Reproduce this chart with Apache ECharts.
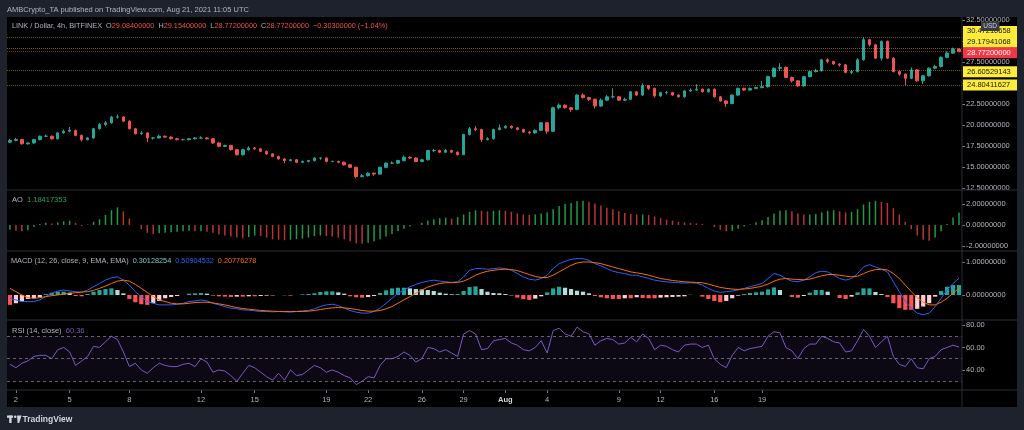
<!DOCTYPE html>
<html><head><meta charset="utf-8">
<script src="https://cdn.jsdelivr.net/npm/echarts@6/dist/echarts.min.js"></script>
<style>html,body{margin:0;padding:0;background:#1e222d;}#c{width:1024px;height:430px;}</style>
</head><body><div id="c"></div>
<script>
// ---- data ----
// candles: [open, close, low, high], 160 bars
const candles = [
[18.0,18.2,17.9,18.4],[18.2,18.3,18.1,18.5],[18.3,17.8,17.7,18.4],[17.8,17.9,17.7,18.0],[17.9,18.3,17.8,18.4],[18.3,18.7,18.2,18.8],[18.7,18.7,18.6,18.9],[18.7,18.4,18.3,18.8],[18.4,19.1,18.3,19.2],[19.1,19.3,19.0,19.5],
[19.3,19.4,19.2,19.8],[19.4,18.8,18.7,19.5],[18.8,18.3,18.1,18.9],[18.3,18.5,18.2,18.6],[18.5,19.6,18.4,19.7],[19.6,20.1,19.5,20.3],[20.1,20.3,19.9,20.5],[20.3,21.0,20.2,21.1],[21.0,21.0,20.8,21.3],[21.0,20.5,20.4,21.1],
[20.5,19.6,19.5,20.6],[19.6,19.0,18.9,19.7],[19.0,19.1,18.9,19.3],[19.1,18.5,18.0,19.2],[18.5,18.5,18.3,18.6],[18.5,18.7,18.4,18.9],[18.7,18.6,18.5,18.8],[18.6,18.4,18.3,18.7],[18.4,18.3,18.2,18.5],[18.3,18.3,18.2,18.4],
[18.3,18.4,18.2,18.5],[18.4,18.5,18.3,18.6],[18.5,18.5,18.4,18.7],[18.5,18.4,18.3,18.6],[18.4,17.9,17.8,18.5],[17.9,17.5,17.4,18.0],[17.5,17.6,17.4,17.7],[17.6,17.1,17.0,17.7],[17.1,16.5,16.4,17.2],[16.5,17.1,16.4,17.2],
[17.1,17.3,17.0,17.5],[17.3,17.2,17.1,17.4],[17.2,16.9,16.8,17.3],[16.9,16.6,16.5,17.0],[16.6,16.3,16.2,16.7],[16.3,16.0,15.9,16.4],[16.0,15.8,15.5,16.1],[15.8,15.9,15.7,16.0],[15.9,15.6,15.5,16.0],[15.6,15.7,15.5,15.8],
[15.7,15.8,15.6,15.9],[15.8,16.1,15.7,16.2],[16.1,16.1,15.9,16.2],[16.1,15.7,15.6,16.2],[15.7,15.7,15.6,15.8],[15.7,15.6,15.5,15.8],[15.6,15.3,15.2,15.7],[15.3,15.0,14.9,15.4],[15.0,13.9,13.7,15.1],[13.9,14.0,13.8,14.2],
[14.0,14.3,13.9,14.4],[14.3,14.2,14.0,14.4],[14.2,15.0,14.1,15.1],[15.0,15.5,14.9,15.6],[15.5,15.5,15.4,15.7],[15.5,15.8,15.4,15.9],[15.8,16.2,15.7,16.4],[16.2,16.1,16.0,16.3],[16.1,15.7,15.6,16.2],[15.7,15.9,15.6,16.0],
[15.9,17.0,15.8,17.1],[17.0,17.0,16.8,17.2],[17.0,16.8,16.7,17.1],[16.8,17.0,16.7,17.2],[17.0,16.8,16.7,17.1],[16.8,16.5,16.4,16.9],[16.5,18.9,16.5,19.0],[18.9,19.6,18.8,19.8],[19.6,19.5,19.3,19.9],[19.5,18.3,18.0,19.6],
[18.3,18.4,18.2,18.6],[18.4,19.5,18.3,19.6],[19.5,19.7,19.4,20.1],[19.7,19.9,19.6,20.0],[19.9,19.7,19.6,20.0],[19.7,19.5,19.4,19.8],[19.5,19.2,19.1,19.6],[19.2,19.1,19.0,19.3],[19.1,19.4,19.0,19.5],[19.4,20.3,19.3,20.4],
[20.3,19.3,19.0,20.4],[19.3,22.1,19.2,22.2],[22.1,22.4,21.9,22.6],[22.4,22.1,22.0,22.5],[22.1,21.9,21.6,22.2],[21.9,23.6,21.8,23.7],[23.6,23.3,23.2,23.8],[23.3,23.1,22.9,23.4],[23.1,22.3,22.0,23.2],[22.3,23.0,22.2,23.2],
[23.0,23.4,22.9,23.6],[23.4,23.4,23.2,24.4],[23.4,23.0,22.9,23.5],[23.0,23.1,22.9,23.3],[23.1,24.0,23.0,24.1],[24.0,23.6,23.5,24.1],[23.6,24.7,23.5,25.0],[24.7,24.4,24.2,24.8],[24.4,23.5,23.3,24.5],[23.5,23.9,23.4,24.0],
[23.9,23.9,23.7,24.1],[23.9,23.6,23.5,24.0],[23.6,23.4,23.3,23.7],[23.4,24.1,23.3,24.2],[24.1,24.2,24.0,24.4],[24.2,24.3,24.1,24.9],[24.3,24.0,23.9,24.4],[24.0,24.3,23.9,24.4],[24.3,23.4,23.3,24.4],[23.4,22.9,22.8,23.5],
[22.9,22.6,22.2,23.0],[22.6,23.6,22.5,23.7],[23.6,24.4,23.5,24.5],[24.4,24.2,24.1,24.5],[24.2,24.4,24.1,24.5],[24.4,24.5,24.3,24.6],[24.5,24.6,24.4,25.3],[24.6,25.8,24.5,25.9],[25.8,26.8,25.7,26.9],[26.8,26.9,26.5,27.4],
[26.9,25.7,25.6,27.0],[25.7,25.3,25.1,25.8],[25.3,24.7,24.6,25.4],[24.7,25.8,24.6,25.9],[25.8,26.4,25.7,26.5],[26.4,26.5,26.3,26.7],[26.5,27.8,26.4,27.9],[27.8,27.6,27.4,28.0],[27.6,27.3,27.2,27.7],[27.3,27.2,27.0,27.4],
[27.2,26.3,26.2,27.3],[26.3,26.4,26.1,26.6],[26.4,27.8,26.3,28.0],[27.8,30.2,27.7,30.47],[30.2,29.6,29.4,30.3],[29.6,28.0,27.9,29.7],[28.0,30.0,27.7,30.1],[30.0,28.0,27.9,30.1],[28.0,26.4,26.3,28.1],[26.4,26.1,25.9,26.5],
[26.1,25.6,24.8,26.2],[25.6,26.6,25.5,26.9],[26.6,25.3,25.2,26.7],[25.3,25.9,24.9,26.0],[25.9,26.8,25.8,26.9],[26.8,27.0,26.7,27.2],[27.0,28.1,26.9,28.2],[28.1,28.6,28.0,28.8],[28.6,29.084,28.5,29.25],[29.084,28.772,28.772,29.154]
];
const aoValues = [
-0.45,-0.55,-0.6,-0.5,-0.2,0.1,0.2,0.15,0.25,0.35,
0.4,0.2,-0.1,0.05,0.3,0.55,0.95,1.4,1.68,1.3,
0.6,0.0,-0.4,-0.75,-0.85,-0.8,-0.75,-0.7,-0.65,-0.6,
-0.55,-0.6,-0.6,-0.65,-0.75,-0.9,-1.0,-1.1,-1.2,-1.27,
-1.15,-1.0,-1.05,-1.2,-1.35,-1.4,-1.45,-1.4,-1.35,-1.3,
-1.2,-1.05,-1.0,-1.05,-1.1,-1.2,-1.35,-1.55,-1.75,-1.8,
-1.7,-1.55,-1.35,-1.1,-0.85,-0.6,-0.35,-0.15,0.0,0.2,
0.4,0.55,0.65,0.7,0.6,0.75,1.0,1.25,1.4,1.35,
1.3,1.35,1.4,1.35,1.25,1.1,1.0,0.95,1.0,1.1,
1.2,1.5,1.8,2.0,2.1,2.25,2.3,2.2,2.05,1.85,
1.65,1.5,1.3,1.15,1.05,1.0,1.0,0.95,0.8,0.65,
0.5,0.4,0.3,0.25,0.2,0.15,0.1,0.0,-0.2,-0.45,
-0.6,-0.55,-0.35,-0.15,0.05,0.25,0.45,0.75,1.1,1.35,
1.4,1.3,1.1,1.0,1.0,1.05,1.2,1.35,1.4,1.3,
1.2,1.25,1.5,1.95,2.2,2.3,2.2,2.1,1.6,1.0,
0.3,-0.4,-1.0,-1.4,-1.5,-1.2,-0.6,0.1,0.7,1.18417
];
const macdLine = [
-0.1,-0.15,-0.2,-0.2,-0.2,-0.15,-0.05,0.05,0.12,0.15,
0.12,0.1,0.08,0.15,0.25,0.35,0.45,0.52,0.55,0.45,
0.3,0.1,-0.05,-0.2,-0.25,-0.3,-0.3,-0.3,-0.28,-0.25,
-0.2,-0.18,-0.15,-0.18,-0.25,-0.3,-0.35,-0.4,-0.42,-0.45,
-0.46,-0.48,-0.5,-0.5,-0.51,-0.5,-0.51,-0.52,-0.5,-0.48,
-0.47,-0.42,-0.35,-0.3,-0.28,-0.32,-0.4,-0.47,-0.52,-0.55,
-0.55,-0.5,-0.4,-0.25,-0.1,0.05,0.15,0.25,0.32,0.38,
0.42,0.45,0.42,0.4,0.38,0.4,0.55,0.75,0.8,0.8,
0.78,0.8,0.82,0.8,0.75,0.65,0.55,0.48,0.45,0.5,
0.6,0.8,0.95,1.02,1.08,1.1,1.1,1.05,0.95,0.88,
0.8,0.72,0.68,0.65,0.6,0.6,0.55,0.5,0.45,0.42,
0.4,0.38,0.37,0.36,0.37,0.36,0.3,0.2,0.12,0.08,
0.1,0.12,0.15,0.2,0.25,0.3,0.35,0.5,0.65,0.6,
0.5,0.42,0.4,0.45,0.55,0.68,0.72,0.7,0.6,0.5,
0.45,0.5,0.65,0.85,0.92,0.85,0.78,0.7,0.4,0.1,
-0.2,-0.4,-0.55,-0.6,-0.55,-0.35,-0.1,0.15,0.35,0.50905
];
const signalLine = [
0.2,0.1,0.0,-0.08,-0.1,-0.08,-0.05,-0.02,0.0,0.03,
0.05,0.07,0.09,0.1,0.14,0.2,0.27,0.35,0.42,0.45,
0.42,0.32,0.2,0.08,-0.05,-0.15,-0.2,-0.25,-0.27,-0.27,
-0.25,-0.23,-0.22,-0.22,-0.24,-0.27,-0.3,-0.34,-0.38,-0.41,
-0.43,-0.45,-0.47,-0.48,-0.49,-0.5,-0.5,-0.5,-0.5,-0.5,
-0.49,-0.47,-0.44,-0.41,-0.39,-0.38,-0.39,-0.41,-0.44,-0.47,
-0.49,-0.49,-0.47,-0.42,-0.35,-0.25,-0.15,-0.05,0.05,0.15,
0.24,0.3,0.35,0.37,0.38,0.38,0.42,0.5,0.6,0.67,
0.72,0.75,0.77,0.78,0.77,0.74,0.68,0.62,0.56,0.53,
0.53,0.6,0.7,0.8,0.9,0.97,1.0,1.0,0.98,0.95,
0.9,0.85,0.8,0.75,0.7,0.67,0.64,0.6,0.55,0.5,
0.47,0.44,0.42,0.4,0.39,0.38,0.37,0.33,0.28,0.23,
0.2,0.18,0.17,0.18,0.2,0.23,0.27,0.33,0.42,0.48,
0.5,0.48,0.47,0.46,0.48,0.53,0.58,0.62,0.62,0.6,
0.57,0.55,0.57,0.65,0.72,0.77,0.78,0.76,0.65,0.5,
0.3,0.1,-0.08,-0.22,-0.3,-0.3,-0.22,-0.1,0.05,0.20776
];
const macdHist = [
-0.3,-0.25,-0.2,-0.12,-0.1,-0.07,0.03,0.07,0.1,0.1,
0.07,-0.03,-0.04,0.03,0.1,0.15,0.18,0.2,0.15,0.05,
-0.12,-0.22,-0.28,-0.3,-0.25,-0.18,-0.1,-0.06,-0.03,0.0,
0.04,0.05,0.06,0.04,-0.02,-0.04,-0.05,-0.06,-0.05,-0.05,
-0.04,-0.04,-0.03,-0.02,-0.02,0.0,-0.01,-0.02,0.0,0.02,
0.03,0.05,0.09,0.11,0.11,0.08,0.04,-0.04,-0.07,-0.08,
-0.06,-0.03,0.06,0.14,0.2,0.22,0.22,0.2,0.18,0.17,
0.15,0.12,0.07,0.04,0.02,0.03,0.12,0.24,0.26,0.18,
0.1,0.06,0.05,0.03,-0.02,-0.08,-0.13,-0.15,-0.11,-0.04,
0.08,0.2,0.25,0.22,0.18,0.13,0.1,0.05,-0.03,-0.07,
-0.1,-0.12,-0.12,-0.1,-0.1,-0.07,-0.09,-0.1,-0.1,-0.08,
-0.07,-0.06,-0.05,-0.04,0.01,0.0,-0.05,-0.12,-0.18,-0.22,
-0.18,-0.1,-0.02,0.03,0.06,0.08,0.1,0.17,0.23,0.15,
0.0,-0.06,-0.08,-0.03,0.07,0.15,0.15,0.1,0.0,-0.09,
-0.12,-0.05,0.08,0.2,0.2,0.09,0.03,-0.06,-0.25,-0.4,
-0.45,-0.45,-0.42,-0.35,-0.25,-0.05,0.12,0.25,0.3,0.30128
];
const rsiValues = [
45,42,46,48,52,53,53,50,58,60,
56,44,48,52,61,60,65,70,67,56,
43,46,40,37,42,46,44,43,43,45,
46,43,50,47,38,40,39,35,30,37,
44,42,38,34,31,37,31,40,35,36,
40,44,42,38,40,38,35,33,27,30,
34,33,44,50,50,52,56,53,47,50,
60,59,56,58,55,52,72,75,72,58,
59,66,67,68,64,62,58,57,60,66,
55,75,77,72,70,78,74,72,62,66,
68,67,63,64,69,65,72,68,58,62,
61,58,56,62,63,63,60,62,50,45,
42,53,60,57,59,60,61,70,74,73,
60,57,50,59,63,63,70,68,65,64,
56,57,66,76,70,60,65,70,52,45,
43,50,42,41,50,52,58,60,62,60.36
];
const tickIdx = [1,10,20,32,41,53,60,69,76,83,90,102,109,118,126];
const tickLabels = ['2','5','8','12','15','19','22','26','29','Aug','4','9','12','16','19'];
const priceTicks = [12.5,15,17.5,20,22.5,25,27.5,30,32.5];
const aoTicks = [-2,0,2];
const macdTicks = [0,1];
const rsiTicks = [40,60,80];
const levels = [30.47210658, 29.17941068, 28.772, 26.60529143, 24.80411627];
const levelLabels = ['30.47210658','29.17941068','28.77200000','26.60529143','24.80411627'];

// ---- chart ----
const FONT = '"Liberation Sans", Arial, sans-serif';
const TXT = '#b2b5be';
const cats = candles.map((_, i) => i);
const tickFn = (i) => tickIdx.indexOf(i) >= 0;
const levelOffsets = [-6, -6, 1, 2, 0];

function yAx(g, min, max, vals, dec) {
  return {type:'value', gridIndex:g, position:'right', min:min, max:max,
    axisLine:{show:false},
    axisTick:{show:true, length:3, customValues:vals, lineStyle:{color:'#787b86'}},
    axisLabel:{show:true, customValues:vals, margin:4, color:TXT, fontSize:7.5, fontFamily:FONT,
      formatter:(v)=>Number(v).toFixed(dec)},
    splitLine:{show:false}};
}
function xAx(g, show) {
  return {type:'category', gridIndex:g, data:cats, boundaryGap:true,
    axisLine:{show:false},
    axisTick:{show:show, interval:tickFn, length:3, alignWithLabel:true, lineStyle:{color:'#787b86'}},
    axisLabel:{show:show, interval:tickFn, margin:6, color:TXT, fontSize:7.5, fontFamily:FONT,
      formatter:(v, i)=>{ const k = tickIdx.indexOf(i); const t = k>=0 ? tickLabels[k] : ''; return t==='Aug' ? '{b|Aug}' : t; },
      rich:{b:{fontWeight:'bold', color:'#d1d4dc', fontSize:7.5, fontFamily:FONT}}},
    splitLine:{show:false}};
}

const aoColors = aoValues.map((v, i) => (i === 0 || v >= aoValues[i-1]) ? '#1f9a45' : '#b83434');
const histColors = macdHist.map((v, i) => {
  const p = i === 0 ? 0 : macdHist[i-1];
  if (v >= 0) return v >= p ? '#26a69a' : '#b2dfdb';
  return v <= p ? '#ff5252' : '#ffcdd2';
});

const chart = echarts.init(document.getElementById('c'), null, {width:1024, height:430});
const sep = (y) => ({type:'line', shape:{x1:7, y1:y, x2:1017, y2:y}, style:{stroke:'#2a2e39', lineWidth:1}, z:50});

chart.setOption({
  backgroundColor:'#000000',
  animation:false,
  textStyle:{fontFamily:FONT},
  grid:[
    {left:7, right:62, top:17, height:173},
    {left:7, right:62, top:190, height:61},
    {left:7, right:62, top:251, height:69},
    {left:7, right:62, top:320, height:70}
  ],
  xAxis:[xAx(0,false), xAx(1,false), xAx(2,false), xAx(3,true)],
  yAxis:[yAx(0,12.3,32.9,priceTicks,8), yAx(1,-2.48,3.33,aoTicks,8), yAx(2,-0.758,1.333,macdTicks,8), yAx(3,22.2,84.4,rsiTicks,2)],
  series:[
    {type:'candlestick', xAxisIndex:0, yAxisIndex:0, data:candles, barWidth:'50%',
      itemStyle:{color:'#26a69a', color0:'#ef5350', borderColor:'#26a69a', borderColor0:'#ef5350', borderWidth:1},
      markLine:{symbol:'none', silent:true, animation:false, z:10,
        label:{position:'end', distance:1, fontSize:7.5, fontFamily:FONT, padding:[2,9,1,4]},
        data: levels.map((v, k) => ({yAxis:v,
          lineStyle:{color: k===2 ? 'rgba(239,83,80,0.5)' : 'rgba(240,225,60,0.42)', type:'dotted', width:1},
          label:{formatter: levelLabels[k], backgroundColor: k===2 ? '#f23645' : '#ffeb3b', color: k===2 ? '#ffffff' : '#131722', offset:[0, levelOffsets[k]]}}))
      }},
    {type:'bar', xAxisIndex:1, yAxisIndex:1, barWidth:1.5,
      data: aoValues.map((v, i) => ({value:v, itemStyle:{color:aoColors[i]}}))},
    {type:'bar', xAxisIndex:2, yAxisIndex:2, barWidth:'70%',
      data: macdHist.map((v, i) => ({value:v, itemStyle:{color:histColors[i]}}))},
    {type:'line', xAxisIndex:2, yAxisIndex:2, data:macdLine, showSymbol:false, lineStyle:{color:'#2962ff', width:1}},
    {type:'line', xAxisIndex:2, yAxisIndex:2, data:signalLine, showSymbol:false, lineStyle:{color:'#ff6d00', width:1}},
    {type:'line', xAxisIndex:3, yAxisIndex:3, data:rsiValues, showSymbol:false, lineStyle:{color:'#7e57c2', width:1},
      markArea:{silent:true, itemStyle:{color:'rgba(126,87,194,0.1)'}, data:[[{yAxis:70},{yAxis:30}]]},
      markLine:{symbol:'none', silent:true, label:{show:false},
        lineStyle:{color:'rgba(120,123,134,0.8)', type:[3,3], width:1},
        data:[{yAxis:70},{yAxis:50},{yAxis:30}]}}
  ],
  graphic:[
    {type:'rect', shape:{x:0, y:0, width:1024, height:17}, style:{fill:'#1e222d'}, z:40},
    {type:'rect', shape:{x:0, y:407, width:1024, height:23}, style:{fill:'#1e222d'}, z:40},
    {type:'rect', shape:{x:0, y:0, width:7, height:430}, style:{fill:'#1e222d'}, z:40},
    {type:'rect', shape:{x:1017, y:0, width:7, height:430}, style:{fill:'#1e222d'}, z:40},
    sep(190), sep(251), sep(320), sep(390),
    {type:'line', shape:{x1:962, y1:17, x2:962, y2:407}, style:{stroke:'#2a2e39', lineWidth:1}, z:50},
    {type:'text', x:7, y:9.5, z:60, style:{text:'AMBCrypto_TA published on TradingView.com, Aug 21, 2021 11:05 UTC', fill:'#b2b5be', font:'7.5px '+FONT, verticalAlign:'middle'}},
    {type:'text', x:12, y:25.5, z:60, style:{text:'LINK / Dollar, 4h, BITFINEX  O{r|29.08400000}  H{r|29.15400000}  L{r|28.77200000}  C{r|28.77200000}  {r|\u22120.30300000 (\u22121.04%)}',
      fill:'#b2b5be', font:'7.3px '+FONT, verticalAlign:'middle', rich:{r:{fill:'#ef5350', font:'7.3px '+FONT}}}},
    {type:'text', x:12, y:200, z:60, style:{text:'AO  {g|1.18417353}', fill:'#b2b5be', font:'7.5px '+FONT, verticalAlign:'middle', rich:{g:{fill:'#26a65b', font:'7.5px '+FONT}}}},
    {type:'text', x:11, y:260.5, z:60, style:{text:'MACD (12, 26, close, 9, EMA, EMA)  {t|0.30128254}  {b|0.50904532}  {o|0.20776278}', fill:'#b2b5be', font:'7.3px '+FONT, verticalAlign:'middle',
      rich:{t:{fill:'#80cbc4', font:'7.3px '+FONT}, b:{fill:'#2962ff', font:'7.3px '+FONT}, o:{fill:'#ff6d00', font:'7.3px '+FONT}}}},
    {type:'text', x:12, y:330.5, z:60, style:{text:'RSI (14, close)  {p|60.36}', fill:'#b2b5be', font:'7.5px '+FONT, verticalAlign:'middle', rich:{p:{fill:'#7e57c2', font:'7.5px '+FONT}}}},
    {type:'rect', shape:{x:981, y:21.5, width:18.5, height:9.5}, style:{fill:'#363a45'}, z:70},
    {type:'text', x:990.2, y:26.3, z:71, style:{text:'USD', fill:'#d1d4dc', font:'6.5px '+FONT, align:'center', verticalAlign:'middle'}},
    {type:'rect', shape:{x:7, y:415.5, width:6, height:2.3}, style:{fill:'#d1d4dc'}, z:60},
    {type:'rect', shape:{x:9.2, y:415.5, width:2.4, height:7.5}, style:{fill:'#d1d4dc'}, z:60},
    {type:'circle', shape:{cx:15.2, cy:416.7, r:1.3}, style:{fill:'#d1d4dc'}, z:60},
    {type:'polygon', shape:{points:[[17,415.5],[21.5,415.5],[19.2,423],[17.6,423]]}, style:{fill:'#d1d4dc'}, z:60},
    {type:'text', x:22.5, y:419.3, z:60, style:{text:'TradingView', fill:'#d1d4dc', font:'bold 8.5px '+FONT, verticalAlign:'middle'}}
  ]
});
</script>
</body></html>
